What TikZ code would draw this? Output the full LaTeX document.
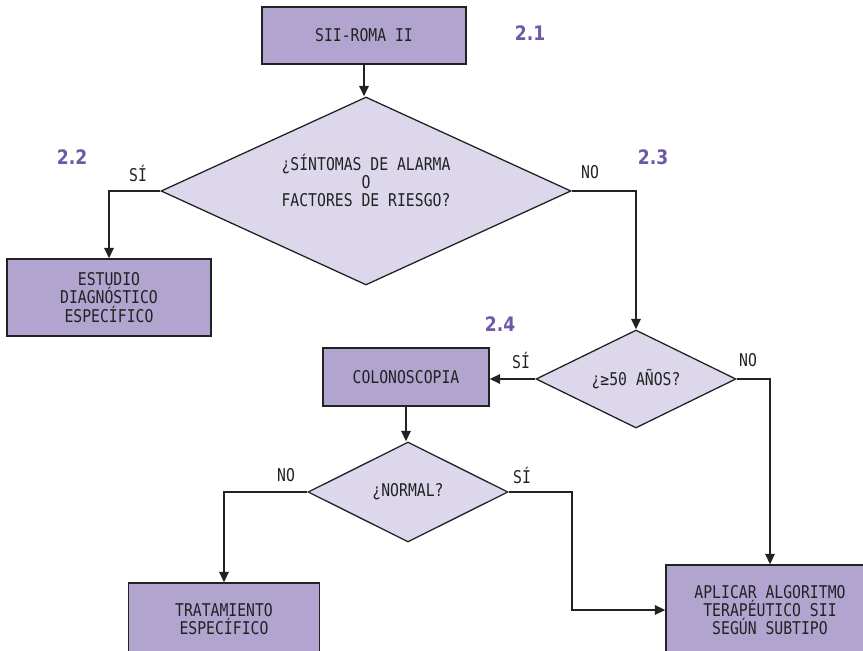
\documentclass[tikz,border=0pt]{standalone}
\usepackage{fontspec}
\setmonofont[FakeStretch=0.84]{DejaVu Sans Mono}
\newfontfamily\numfont[FakeStretch=0.86]{DejaVu Sans}
\usepackage{tikz}
\usetikzlibrary{shapes.geometric,arrows.meta}

\definecolor{cajalila}{HTML}{B1A5D0}
\definecolor{rombolila}{HTML}{DDD7EC}
\definecolor{numlila}{HTML}{7058A8}
\definecolor{trazo}{HTML}{222222}

\tikzset{
  caja/.style={draw=trazo, fill=cajalila, line width=1.1pt, inner sep=0pt, align=center,
    text=trazo, font=\ttfamily\fontsize{15}{15.6}\selectfont},
  pregunta/.style={diamond, aspect=2, draw=trazo, fill=rombolila, line width=1.1pt, inner sep=0pt,
    align=center, text=trazo, font=\ttfamily\fontsize{15}{15.2}\selectfont},
  flecha/.style={draw=trazo, line width=1.8pt, -{Triangle[length=9pt,width=8pt]}},
  rama/.style={draw=trazo, line width=1.8pt},
  rotulo/.style={text=trazo, font=\ttfamily\fontsize{15}{15.6}\selectfont},
  paso/.style={text=numlila, font=\numfont\bfseries\fontsize{17}{17}\selectfont}
}

\begin{document}
\begin{tikzpicture}[x=0.03cm,y=-0.03cm]
\useasboundingbox (0,0) rectangle (863,651);

% cajas
\node[caja, minimum width=6.12cm, minimum height=1.71cm] (sii) at (364,35.5) {SII-ROMA II};
\node[caja, minimum width=6.12cm, minimum height=2.31cm] (estudio) at (109,297.5) {ESTUDIO\\DIAGNÓSTICO\\ESPECÍFICO};
\node[caja, minimum width=4.98cm, minimum height=1.74cm] (colono) at (406,377) {COLONOSCOPIA};
\node[caja, minimum width=5.73cm, minimum height=2.16cm] (trata) at (224,619) {TRATAMIENTO\\ESPECÍFICO};
\node[caja, minimum width=6.24cm, minimum height=2.7cm] (aplicar) at (770,610) {APLICAR ALGORITMO\\TERAPÉUTICO SII\\SEGÚN SUBTIPO};

% preguntas
\node[pregunta, minimum width=12.3cm, minimum height=5.64cm, text depth=18pt] (alarma) at (366,191) {¿SÍNTOMAS DE ALARMA\\O\\FACTORES DE RIESGO?};
\node[pregunta, minimum width=6cm, minimum height=2.94cm] (edad) at (636,379) {¿≥50 AÑOS?};
\node[pregunta, minimum width=6cm, minimum height=3cm] (normal) at (408,492) {¿NORMAL?};

% numeros
\node[paso] (n21) at (530,33) {2.1};
\node[paso] (n22) at (72,157) {2.2};
\node[paso] (n23) at (653,157) {2.3};
\node[paso] (n24) at (500,324) {2.4};

% conexiones
\draw[flecha] (sii.south) -- (sii.south |- alarma.north);
\draw[flecha] (alarma.west) -| (estudio.north);
\draw[flecha] (alarma.east) -| (edad.north);
\draw[flecha] (edad.west) -- (edad.west -| colono.east);
\draw[flecha] (edad.east) -| (aplicar.north);
\draw[flecha] (colono.south) -- (colono.south |- normal.north);
\draw[flecha] (normal.west) -| (trata.north);
\draw[flecha] (normal.east) -- ++(63,0) |- (aplicar.west);

% rotulos
\node[rotulo] (si1) at (138,173) {SÍ};
\node[rotulo] (no1) at (590,172) {NO};
\node[rotulo] (si2) at (521,360) {SÍ};
\node[rotulo] (no2) at (748,360) {NO};
\node[rotulo] (no3) at (286,475) {NO};
\node[rotulo] (si3) at (522,475) {SÍ};

\end{tikzpicture}
\end{document}
